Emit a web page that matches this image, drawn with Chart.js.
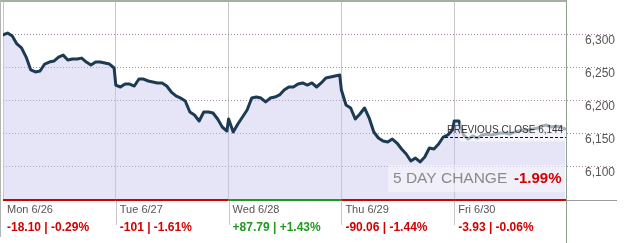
<!DOCTYPE html>
<html><head><meta charset="utf-8">
<script src="https://cdn.jsdelivr.net/npm/chart.js@4/dist/chart.umd.min.js"></script>
<style>html,body{margin:0;padding:0;background:#fff;}#wrap{width:636px;height:243px;position:relative;}</style>
</head><body><div id="wrap"><canvas id="c" width="636" height="243"></canvas></div>
<script>
const days = ['Mon 6/26','Tue 6/27','Wed 6/28','Thu 6/29','Fri 6/30'];
const dayChangeLabels = ['-18.10 | -0.29%','-101 | -1.61%','+87.79 | +1.43%','-90.06 | -1.44%','-3.93 | -0.06%'];
const dayChangeValues = [-18.10,-101,87.79,-90.06,-3.93];
const yTicks = [6100,6150,6200,6250,6300];
const previousClose = 6144;
const fiveDayChange = '-1.99%';

const monPrices = [6298.5,6301.5,6297,6285,6279,6265,6245.5,6242.5,6244,6254.5,6257.5,6259,6265,6268,6260.5,6262,6262,6263.5,6257.5,6253,6257.5,6257.5,6256,6254.5,6248.5];
const tuePrices = [6222.7,6219.7,6224.2,6224.2,6221.2,6231.8,6231.8,6228.8,6227.3,6225.8,6225.8,6221.2,6212.1,6206.1,6203,6198.5,6181.8,6177.3,6168.2,6181.8,6181.8,6180.3,6171.2,6159.1,6153];
const wedPrices = [6171.2,6151.5,6163.6,6174.2,6184.8,6203,6204.5,6203,6197,6203,6204.5,6207.6,6215.2,6219.7,6219.7,6224.2,6225.8,6222.7,6225.8,6219.7,6225.8,6233.3,6234.8,6236.4,6237.9];
const thuPrices = [6215.2,6192.4,6187.9,6171.2,6178.8,6187.9,6172.7,6151.5,6142.4,6137.9,6136.4,6140.9,6134.8,6125.8,6118.2,6107.6,6112.1,6106.1,6113.6,6127.3,6125.8,6133.3,6143.9,6147,6154.5];
const friPrices = [6168.2,6168.2,6147,6140.9,6145.5,6142.4,6147,6148.5,6147,6148.5,6150,6150,6148.5,6151.5,6153,6154.5,6154.5,6156,6157.6,6160.6,6162.1,6159.1,6160.6,6159.1,6156];

const dayPrices = [monPrices,tuePrices,wedPrices,thuPrices,friPrices];
const points = [];
dayPrices.forEach((arr,d)=>{
  arr.forEach((v,i)=>points.push({x: d + i*0.985/(arr.length-1), y: v}));
});

const FONT = "'Liberation Sans', Arial, sans-serif";
Chart.defaults.font.family = FONT;
const RED = '#d20000', GREEN = '#1e9a1e';

const deco = {
  id: 'deco',
  afterDraw(chart){
    const {ctx, chartArea:a, scales:{x, y}} = chart;
    ctx.save();
    for (let i=0;i<5;i++){
      const x0 = x.getPixelForValue(i), x1 = x.getPixelForValue(i+1);
      ctx.fillStyle = dayChangeValues[i] >= 0 ? GREEN : RED;
      ctx.fillRect(x0, a.bottom-1, x1-x0, 2);
    }
    ctx.fillStyle = '#9a9a9a';
    ctx.fillRect(a.right, a.bottom, 50, 1);
    ctx.fillStyle = '#c8c8c8';
    for (let i=1;i<5;i++){
      const px = Math.round(x.getPixelForValue(i));
      ctx.fillRect(px, a.bottom+1, 1, 24);
    }
    ctx.fillStyle = '#a2b2a0';
    ctx.fillRect(0, 0, Math.round(a.right), 2);
    ctx.fillStyle = '#8fa08e';
    ctx.fillRect(Math.round(a.right)-1, 0, 1, 243);
    ctx.fillStyle = '#b4b4b4';
    ctx.fillRect(0, 0, 1, 237);

    const pcY = Math.round(y.getPixelForValue(previousClose)) + 0.5;
    ctx.fillStyle = 'rgba(255,255,255,0.6)';
    ctx.fillRect(460, pcY-15, a.right-1-460, 19);
    ctx.strokeStyle = '#111';
    ctx.lineWidth = 1;
    ctx.setLineDash([3,2]);
    ctx.beginPath();
    ctx.moveTo(445, pcY); ctx.lineTo(a.right-1, pcY);
    ctx.stroke();
    ctx.setLineDash([]);
    ctx.fillStyle = '#333';
    ctx.font = '10px ' + FONT;
    ctx.textBaseline = 'alphabetic';
    ctx.textAlign = 'left';
    ctx.fillText('PREVIOUS CLOSE 6,144', 447, pcY-5);

    ctx.fillStyle = 'rgba(255,255,255,0.4)';
    ctx.fillRect(388, 165, a.right-1-388, 27);
    ctx.font = '15.5px ' + FONT;
    ctx.fillStyle = '#8a8a8a';
    ctx.fillText('5 DAY CHANGE', 393, 183);
    ctx.font = 'bold 15px ' + FONT;
    ctx.fillStyle = RED;
    ctx.fillText(fiveDayChange, 514, 183);
    ctx.restore();
  }
};

new Chart(document.getElementById('c'), {
  type: 'line',
  data: {
    datasets: [{
      data: points,
      borderColor: '#1c3b52',
      borderWidth: 3,
      borderJoinStyle: 'round',
      borderCapStyle: 'round',
      pointRadius: 0,
      tension: 0,
      fill: 'start',
      backgroundColor: 'rgba(200,198,240,0.45)'
    }]
  },
  options: {
    responsive: false,
    devicePixelRatio: 1,
    animation: false,
    events: [],
    layout: { padding: { top: 1, left: 2, right: 21, bottom: 0 } },
    plugins: { legend: { display: false }, tooltip: { enabled: false } },
    scales: {
      x: {
        type: 'linear', min: 0, max: 5, position: 'bottom', weight: 0,
        afterBuildTicks: s => { s.ticks = days.map((d,i)=>({value:i})); },
        afterFit: s => { s.height = 20; },
        grid: { color: '#c8c8c8', lineWidth: 1, drawTicks: false },
        border: { display: false },
        ticks: {
          autoSkip: false, maxRotation: 0, align: 'start', labelOffset: 4, padding: 3,
          color: '#555', font: { size: 11 },
          callback: (v, i) => days[i]
        }
      },
      x2: {
        type: 'linear', min: 0, max: 5, position: 'bottom', weight: 1,
        afterBuildTicks: s => { s.ticks = days.map((d,i)=>({value:i})); },
        afterFit: s => { s.height = 23; },
        grid: { display: false, drawTicks: false },
        border: { display: false },
        ticks: {
          autoSkip: false, maxRotation: 0, align: 'start', labelOffset: 4, padding: 0,
          font: { size: 12, weight: 'bold' },
          color: ctx => dayChangeValues[ctx.index] >= 0 ? GREEN : RED,
          callback: (v, i) => dayChangeLabels[i]
        }
      },
      y: {
        type: 'linear', position: 'right', min: 6048.5, max: 6350,
        afterBuildTicks: s => { s.ticks = yTicks.map(v=>({value:v})); },
        afterFit: s => { s.width = 48; },
        grid: { color: '#a486a4', lineWidth: 1, drawTicks: true, tickLength: 48, tickColor: '#a486a4', tickBorderDash: [1,2] },
        border: { display: false, dash: [1,2] },
        ticks: {
          crossAlign: 'near', padding: -30, labelOffset: 7,
          color: '#555', font: { size: 12 },
          callback: v => v.toLocaleString('en-US')
        }
      }
    }
  },
  plugins: [deco]
});
</script>
</body></html>
